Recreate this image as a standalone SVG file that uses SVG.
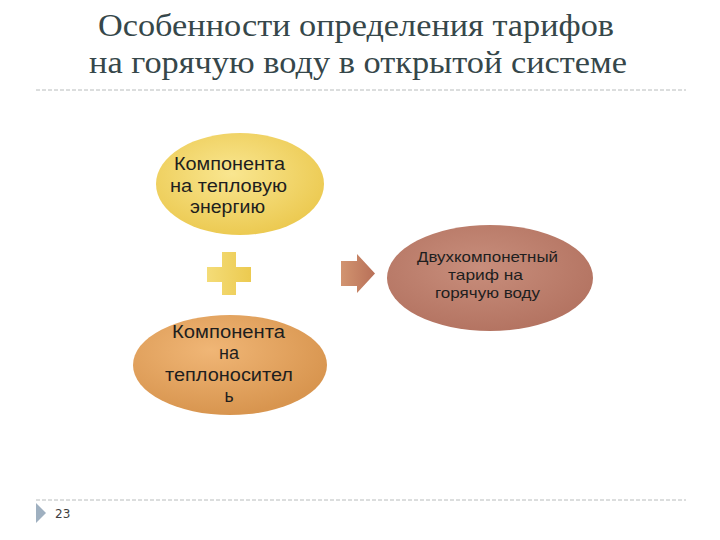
<svg xmlns="http://www.w3.org/2000/svg" width="720" height="540" viewBox="0 0 720 540">
<defs>
<radialGradient id="gY" cx="0.45" cy="0.4" r="0.6">
<stop offset="0" stop-color="#f9e690"/>
<stop offset="1" stop-color="#ecca52"/>
</radialGradient>
<radialGradient id="gO" cx="0.4" cy="0.35" r="0.65">
<stop offset="0" stop-color="#f0b676"/>
<stop offset="1" stop-color="#d8954f"/>
</radialGradient>
<radialGradient id="gB" cx="0.45" cy="0.4" r="0.6">
<stop offset="0" stop-color="#c88e7c"/>
<stop offset="1" stop-color="#b47462"/>
</radialGradient>
<linearGradient id="gP" x1="0" y1="0" x2="1" y2="0">
<stop offset="0" stop-color="#f4dc78"/>
<stop offset="1" stop-color="#ecca50"/>
</linearGradient>
<linearGradient id="gA" x1="0" y1="0" x2="1" y2="0">
<stop offset="0" stop-color="#d29470"/>
<stop offset="1" stop-color="#b87058"/>
</linearGradient>
<style>
.title{font-family:"Liberation Serif","DejaVu Serif",serif;font-size:32px;fill:#36474a;text-anchor:middle}
.lbl{font-family:"Liberation Sans",Arial,sans-serif;font-size:17.5px;fill:#1e1e1e;text-anchor:middle}
.lbl2{font-family:"Liberation Sans",Arial,sans-serif;font-size:15px;fill:#1e1e1e;text-anchor:middle}
.dash{stroke:#b8bcbc;stroke-width:1;stroke-dasharray:4 2;fill:none}
</style>
</defs>
<rect width="720" height="540" fill="#ffffff"/>
<g id="title">
<text class="title" x="356" y="36" textLength="516" lengthAdjust="spacingAndGlyphs">Особенности определения тарифов</text>
<text class="title" x="358" y="73" textLength="538" lengthAdjust="spacingAndGlyphs">на горячую воду в открытой системе</text>
<line class="dash" x1="36" y1="90" x2="686" y2="90"/>
</g>
<g id="node-heat">
<ellipse cx="240" cy="184" rx="84" ry="51" fill="url(#gY)"/>
<text class="lbl" x="229.5" y="170" textLength="111" lengthAdjust="spacingAndGlyphs">Компонента</text>
<text class="lbl" x="228.5" y="192" textLength="117" lengthAdjust="spacingAndGlyphs">на тепловую</text>
<text class="lbl" x="227.5" y="213" textLength="75" lengthAdjust="spacingAndGlyphs">энергию</text>
</g>
<g id="node-carrier">
<ellipse cx="230" cy="365" rx="97" ry="50" fill="url(#gO)"/>
<text class="lbl" x="228.5" y="338" textLength="113" lengthAdjust="spacingAndGlyphs">Компонента</text>
<text class="lbl" x="229" y="359" textLength="20" lengthAdjust="spacingAndGlyphs">на</text>
<text class="lbl" x="229" y="381" textLength="128" lengthAdjust="spacingAndGlyphs">теплоносител</text>
<text class="lbl" x="229" y="402">ь</text>
</g>
<g id="node-tariff">
<ellipse cx="490" cy="278" rx="103" ry="53" fill="url(#gB)"/>
<text class="lbl2" x="487.5" y="262" textLength="141" lengthAdjust="spacingAndGlyphs">Двухкомпонетный</text>
<text class="lbl2" x="485.5" y="280" textLength="75" lengthAdjust="spacingAndGlyphs">тариф на</text>
<text class="lbl2" x="487.5" y="298" textLength="105" lengthAdjust="spacingAndGlyphs">горячую воду</text>
</g>
<g id="connectors">
<path d="M222,252 H236 V267 H251 V282 H236 V295 H222 V282 H207 V267 H222 Z" fill="url(#gP)"/>
<path d="M341,261 H357 V254 L375,273.5 L357,293 V286 H341 Z" fill="url(#gA)"/>
</g>
<g id="footer">
<line class="dash" x1="36" y1="500" x2="686" y2="500"/>
<path d="M36,503 L46,513 L36,523 Z" fill="#9fb0c0"/>
<text x="55" y="518" font-family="'DejaVu Sans','Liberation Sans',sans-serif" font-size="12" fill="#404040">23</text>
</g>
</svg>
